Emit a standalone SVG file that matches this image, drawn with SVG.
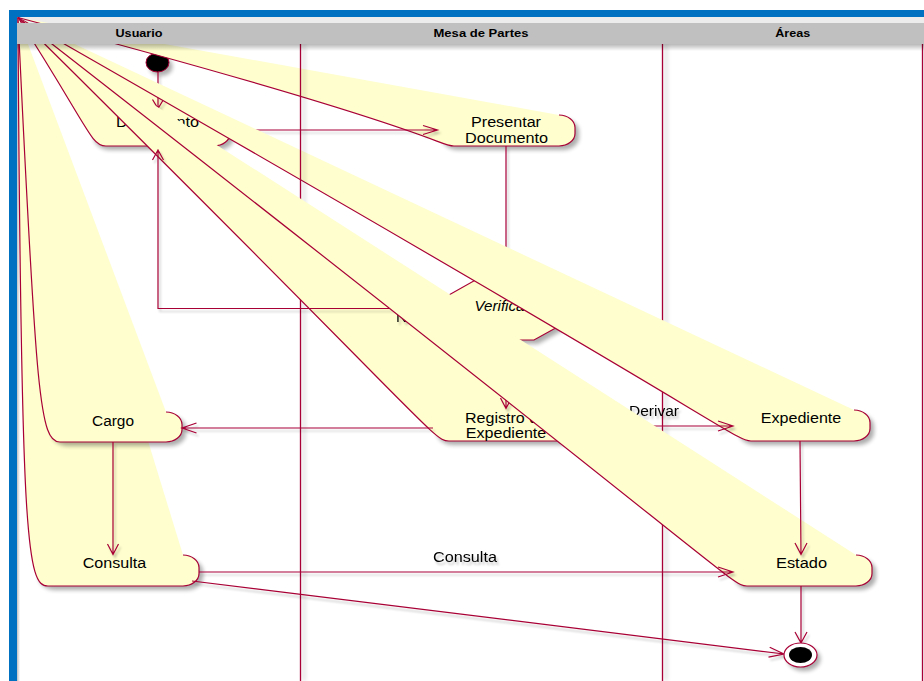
<svg xmlns="http://www.w3.org/2000/svg" width="924" height="681" viewBox="0 0 924 681">
<defs>
  <filter id="blur2" filterUnits="userSpaceOnUse" x="0" y="0" width="924" height="681">
    <feGaussianBlur stdDeviation="2"/>
  </filter>
  <filter id="lift" filterUnits="userSpaceOnUse" x="0" y="0" width="924" height="681">
    <feGaussianBlur in="SourceAlpha" stdDeviation="1.3"/>
    <feOffset dx="2" dy="3" result="off"/>
    <feFlood flood-color="#000" flood-opacity="0.22"/>
    <feComposite in2="off" operator="in"/>
    <feMerge><feMergeNode/><feMergeNode in="SourceGraphic"/></feMerge>
  </filter>
  <linearGradient id="hdrShade" x1="0" y1="0" x2="0" y2="1">
    <stop offset="0" stop-color="#000" stop-opacity="0.28"/>
    <stop offset="1" stop-color="#000" stop-opacity="0"/>
  </linearGradient>
  <linearGradient id="sideShade" x1="0" y1="0" x2="1" y2="0">
    <stop offset="0" stop-color="#000" stop-opacity="0.25"/>
    <stop offset="1" stop-color="#000" stop-opacity="0"/>
  </linearGradient>
</defs>
<style>
  .band{fill:#FEFECE;stroke:#A80036;stroke-width:1.2}
  .shadow{fill:#000;opacity:.32;filter:url(#blur2)}
  .lbl{font-family:"Liberation Sans",Arial,sans-serif;font-size:14px;fill:#000;text-anchor:middle}
  .it{font-style:italic}
  .edge{fill:none;stroke:#A80036;stroke-width:1.2}
  .lane{stroke:#A80036;stroke-width:1.3}
  .laneShadow{stroke:#000;stroke-width:3;opacity:.13;filter:url(#blur2)}
  .title{font-family:"Liberation Sans",Arial,sans-serif;font-size:10.5px;font-weight:bold;fill:#000;text-anchor:middle}
</style>

<!-- page -->
<rect x="0" y="0" width="924" height="681" fill="#fff"/>
<rect x="17" y="17" width="907" height="6" fill="#ececec"/>
<rect x="17" y="17" width="3" height="664" fill="url(#sideShade)"/>

<!-- right-hand lane separators -->
<g id="lane-areas">
  <line class="laneShadow" x1="666" y1="44" x2="666" y2="681"/>
  <line class="lane" x1="662.5" y1="44" x2="662.5" y2="681"/>
  <line class="laneShadow" x1="926" y1="44" x2="926" y2="681"/>
  <line class="lane" x1="922.5" y1="44" x2="922.5" y2="681"/>
</g>

<g id="n-documento">
  <path class="shadow" transform="translate(4,4)" d="M106,115 L214,115 A16,12.5 0 0 1 230,127.5 L230,133.5 A16,12.5 0 0 1 214,146 L106,146 A16,12.5 0 0 1 90,133.5 L90,127.5 A16,12.5 0 0 1 106,115 Z"/>
  <path class="band" d="M18,17.5 C90,130 91,146 106,146 L214,146 A16,12.5 0 0 0 230,133.5 L230,127.5 A16,12.5 0 0 0 214,115"/>
  <text class="lbl" x="157.5" y="126.7" textLength="83" lengthAdjust="spacingAndGlyphs">Documento</text>
</g>

<g id="n-start">
  <ellipse class="shadow" cx="161" cy="66.5" rx="11.5" ry="9.5"/>
  <ellipse cx="157.5" cy="62.5" rx="11.5" ry="9.5" fill="#000" stroke="#A80036" stroke-width="1"/>
</g>

<g class="edges" id="e-start" filter="url(#lift)">
  <path class="edge" d="M158,72 L158,108.5 M152.5,99.5 L158,108.5 L163.5,99.5"/>
</g>

<g id="n-presentar">
  <path class="shadow" transform="translate(4,4)" d="M454,115 L559,115 A16,12.5 0 0 1 575,127.5 L575,133.5 A16,12.5 0 0 1 559,146 L454,146 A16,12.5 0 0 1 438,133.5 L438,127.5 A16,12.5 0 0 1 454,115 Z"/>
  <path class="band" d="M18,17.5 C438,129 438,146 454,146 L559,146 A16,12.5 0 0 0 575,133.5 L575,127.5 A16,12.5 0 0 0 559,115"/>
  <text class="lbl" x="506" y="127.3" textLength="70" lengthAdjust="spacingAndGlyphs">Presentar</text>
  <text class="lbl" x="506.5" y="143.3" textLength="83" lengthAdjust="spacingAndGlyphs">Documento</text>
</g>

<g class="edges" id="e-doc-presentar" filter="url(#lift)">
  <path class="edge" d="M230,130 L437.5,130 M423,125.5 L437.5,130 L423,134.5"/>
  <path class="edge" d="M506,146 L506,278"/>
</g>

<g id="n-verificar">
  <path class="shadow" transform="translate(4,4)" d="M424,309 L479,278 L534,278 L590,309 L534,340 L479,340 Z"/>
  <path class="band" d="M424,309 L479,278 L534,278 L590,309 L534,340 L479,340 Z"/>
  <text class="lbl it" x="502" y="311" textLength="55" lengthAdjust="spacingAndGlyphs">Verificar</text>
</g>

<g id="n-consulta">
  <path class="shadow" transform="translate(4,4)" d="M51,555 L183,555 A16,12.5 0 0 1 199,567.5 L199,573.5 A16,12.5 0 0 1 183,586 L51,586 A16,12.5 0 0 1 35,573.5 L35,567.5 A16,12.5 0 0 1 51,555 Z"/>
  <path class="band" d="M18,17.5 C21,545 27,586 48,586 L183,586 A16,12.5 0 0 0 199,573.5 L199,567.5 A16,12.5 0 0 0 183,555"/>
  <text class="lbl" x="114.5" y="568.3" textLength="63.5" lengthAdjust="spacingAndGlyphs">Consulta</text>
</g>

<g id="n-cargo">
  <path class="shadow" transform="translate(4,4)" d="M64,412 L166,412 A16,12.5 0 0 1 182,424.5 L182,429.5 A16,12.5 0 0 1 166,442 L64,442 A16,12.5 0 0 1 48,429.5 L48,424.5 A16,12.5 0 0 1 64,412 Z"/>
  <path class="band" d="M18,17.5 C36,400 40,442 60,442 L166,442 A16,12.5 0 0 0 182,429.5 L182,424.5 A16,12.5 0 0 0 166,412"/>
  <text class="lbl" x="113" y="425.7" textLength="42" lengthAdjust="spacingAndGlyphs">Cargo</text>
</g>

<g id="n-expediente">
  <path class="shadow" transform="translate(4,4)" d="M751,410 L854,410 A16,12.5 0 0 1 870,422.5 L870,428.5 A16,12.5 0 0 1 854,441 L751,441 A16,12.5 0 0 1 735,428.5 L735,422.5 A16,12.5 0 0 1 751,410 Z"/>
  <path class="band" d="M18,17.5 C735,427 735,441 751,441 L854,441 A16,12.5 0 0 0 870,428.5 L870,422.5 A16,12.5 0 0 0 854,410"/>
  <text class="lbl" x="801" y="423.3" textLength="80.5" lengthAdjust="spacingAndGlyphs">Expediente</text>
</g>

<!-- separator between Usuario and Mesa de Partes -->
<g id="lane-usuario">
  <line class="laneShadow" x1="304" y1="44" x2="304" y2="681"/>
  <line class="lane" x1="300.5" y1="44" x2="300.5" y2="681"/>
</g>

<g id="n-registro">
  <path class="shadow" transform="translate(4,4)" d="M449,409 L563,409 A16,12.5 0 0 1 579,421.5 L579,428.5 A16,12.5 0 0 1 563,441 L449,441 A16,12.5 0 0 1 433,428.5 L433,421.5 A16,12.5 0 0 1 449,409 Z"/>
  <path class="band" d="M18,17.5 C433,428.5 433,441 449,441 L563,441 A16,12.5 0 0 0 579,428.5 L579,421.5 A16,12.5 0 0 0 563,409"/>
  <text class="lbl" x="506" y="423.3" textLength="82" lengthAdjust="spacingAndGlyphs">Registro de</text>
  <text class="lbl" x="506" y="438.3" textLength="80.5" lengthAdjust="spacingAndGlyphs">Expediente</text>
</g>

<g class="edges" id="e-no" filter="url(#lift)">
  <path class="edge" d="M424,308.5 L158,308.5 L158,150 M152.5,160 L158,150 L163.5,160"/>
  <text class="lbl" x="406" y="321.7" textLength="20" lengthAdjust="spacingAndGlyphs">No</text>
</g>

<g class="edges" id="e-registro" filter="url(#lift)">
  <path class="edge" d="M506,340 L506,408.5 M500.5,398 L506,408.5 L511.5,398"/>
  <path class="edge" d="M433,428 L182,428 M196.5,423 L182,428 L196.5,433"/>
  <path class="edge" d="M579,426 L733,426 M718,421 L733,426 L718,431"/>
  <text class="lbl" x="654" y="415.5" textLength="50" lengthAdjust="spacingAndGlyphs">Derivar</text>
</g>

<g id="n-estado">
  <path class="shadow" transform="translate(4,4)" d="M747,555 L856,555 A16,12.5 0 0 1 872,567.5 L872,573.5 A16,12.5 0 0 1 856,586 L747,586 A16,12.5 0 0 1 731,573.5 L731,567.5 A16,12.5 0 0 1 747,555 Z"/>
  <path class="band" d="M18,17.5 C732,573.5 731,586 747,586 L856,586 A16,12.5 0 0 0 872,573.5 L872,567.5 A16,12.5 0 0 0 856,555"/>
  <text class="lbl" x="801.5" y="568.3" textLength="51" lengthAdjust="spacingAndGlyphs">Estado</text>
</g>

<g class="edges" id="e-final" filter="url(#lift)">
  <path class="edge" d="M113,442 L113,554.5 M107.5,544 L113,554.5 L118.5,544"/>
  <path class="edge" d="M800,441 L801,554.5 M795,543 L801,554.5 L807,543"/>
  <path class="edge" d="M199,572 L733,572 M718,567 L733,572 L718,577"/>
  <text class="lbl" x="465" y="561.7" textLength="64" lengthAdjust="spacingAndGlyphs">Consulta</text>
  <path class="edge" d="M801,586 L801,643 M795,632 L801,643 L807,632"/>
  <path class="edge" d="M192,581 L784,654 M769.7,647.2 L784,654 L768.5,657.2"/>
</g>

<g id="n-end">
  <ellipse class="shadow" cx="804" cy="659" rx="16.5" ry="12"/>
  <ellipse cx="800.5" cy="655" rx="16.5" ry="12" fill="#fff" stroke="#A80036" stroke-width="1.2"/>
  <ellipse cx="800.5" cy="655" rx="11.5" ry="8" fill="#000"/>
</g>

<!-- swimlane header and outer frame -->
<g id="header">
  <rect x="17" y="44" width="907" height="7" fill="url(#hdrShade)"/>
  <rect x="17" y="23" width="907" height="21" fill="#C0C0C0"/>
  <text class="title" x="139" y="37" textLength="47" lengthAdjust="spacingAndGlyphs">Usuario</text>
  <text class="title" x="481" y="37" textLength="95" lengthAdjust="spacingAndGlyphs">Mesa de Partes</text>
  <text class="title" x="792.7" y="37" textLength="35" lengthAdjust="spacingAndGlyphs">Áreas</text>
</g>
<g id="frame">
  <rect x="9" y="10" width="915" height="7" fill="#0070C0"/>
  <rect x="9" y="10" width="8" height="671" fill="#0070C0"/>
</g>
</svg>
